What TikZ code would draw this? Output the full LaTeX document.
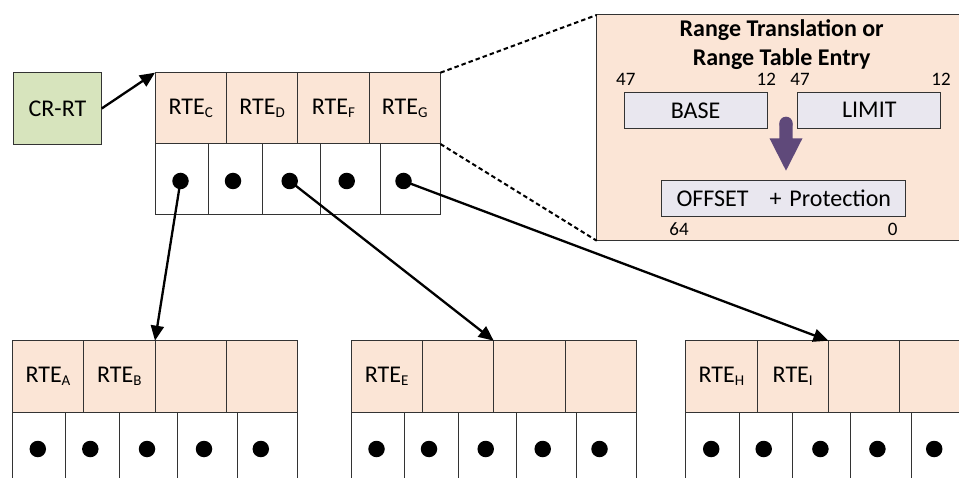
\documentclass[tikz,border=0pt]{standalone}
\usepackage{fontspec}
\setmainfont{Carlito}
\usetikzlibrary{arrows.meta}

\definecolor{peach}{HTML}{FBE5D6}
\definecolor{leaf}{HTML}{D7E4BD}
\definecolor{lav}{HTML}{E9E7EF}
\definecolor{plum}{HTML}{5F497A}
\definecolor{edge}{HTML}{333333}

% entry label with a lowered small index letter
\newcommand\rte[1]{RTE\raisebox{-3.8pt}{\fontsize{15}{15}\selectfont #1}}

% one range table: name, left x, top y, four entry labels
\newcommand\rtable[7]{%
  \foreach \i/\lab in {0/{#4},1/{#5},2/{#6},3/{#7}}
    \node[hcell] (#1-h\i) at ({#2+71.35*\i+35.675},{#3+35.65}) {\lab};
  \foreach \a/\b in {0/53.5,53.5/107,107/165,165/225.5,225.5/285.4}
    \draw[cellline] ({#2+\a},{#3+71.3}) rectangle ({#2+\b},{#3+142.3});
  \foreach \i/\d in {1/25.5,2/78,3/134.7,4/191.7,5/248.5}
    \node[dot] (#1-d\i) at ({#2+\d},{#3+108.3}) {};
}

\begin{document}
\begin{tikzpicture}[x=1pt,y=-1pt,
  every node/.style={font=\fontsize{24}{28}\selectfont, inner sep=0pt, outer sep=0pt},
  hcell/.style={draw=edge, line width=1pt, fill=peach, minimum width=71.35pt, minimum height=71.3pt},
  cellline/.style={draw=edge, line width=1pt},
  dot/.style={circle, fill=black, minimum size=16.5pt},
  link/.style={line width=2.3pt, -{Triangle[length=15pt,width=13pt]}},
  zoomline/.style={line width=2pt, dash pattern=on 4.5pt off 3pt},
  field/.style={draw=edge, line width=1pt, fill=lav, minimum height=36pt},
  bitno/.style={font=\fontsize{19}{20}\selectfont, anchor=base},
  title/.style={font=\fontsize{24}{28}\selectfont\bfseries, anchor=base}]

\clip (0,0) rectangle (959,478);

% root register
\node[draw=edge, line width=1pt, fill=leaf, minimum width=88.4pt, minimum height=71.6pt]
  (crrt) at (57.5,108.5) {CR-RT};

% top-level table and the three leaf tables
\rtable{top}{155}{72.7}{\rte{C}}{\rte{D}}{\rte{F}}{\rte{G}}
\rtable{la}{12.3}{340.7}{\rte{A}}{\rte{B}}{}{}
\rtable{lb}{351}{340.7}{\rte{E}}{}{}{}
\rtable{lc}{685.7}{340.7}{\rte{H}}{\rte{I}}{}{}

% entry format callout
\node[draw=edge, line width=1pt, fill=peach, minimum width=369.3pt, minimum height=225.7pt]
  (rt) at (781.35,127.85) {};
\draw[zoomline] (top-h3.north east) -- (rt.north west);
\draw[zoomline] (top-h3.south east) -- (rt.south west);

\node[title] (t1) at (781.7,36.7) {Range Translation or};
\node[title] (t2) at (781.7,65.5) {Range Table Entry};

\node[bitno] (b47) at (625.8,85.7) {47};
\node[bitno] (b12) at (766.3,85.7) {12};
\node[bitno] (l47) at (800,85.7) {47};
\node[bitno] (l12) at (941,85.7) {12};

\node[field, minimum width=143pt] (base) at (695.5,110.3) {BASE};
\node[field, minimum width=142.7pt] (limit) at (869.3,110.3) {LIMIT};
\node[field, minimum width=244.3pt] (offset) at (783.8,198.7)
  {OFFSET\hspace{21pt}+\hspace{8pt}Protection};

\node[bitno] (o64) at (679,235.7) {64};
\node[bitno] (o0) at (892.7,235.7) {0};

% block arrow from the range bounds down to the offset field
\fill[plum] (786,123.4) circle[radius=6.7pt];
\fill[plum] (779.3,123.4) -- (792.7,123.4) -- (792.7,138.3) -- (802.5,138.3)
  -- (786,170.7) -- (769.5,138.3) -- (779.3,138.3) -- cycle;

% pointers
\draw[link] (crrt.east) -- (top-h0.north west);
\draw[link] (top-d1.center) -- (la-h1.north east);
\draw[link] (top-d3.center) -- (lb-h1.north east);
\draw[link] (top-d5.center) -- (lc-h1.north east);
\end{tikzpicture}
\end{document}
